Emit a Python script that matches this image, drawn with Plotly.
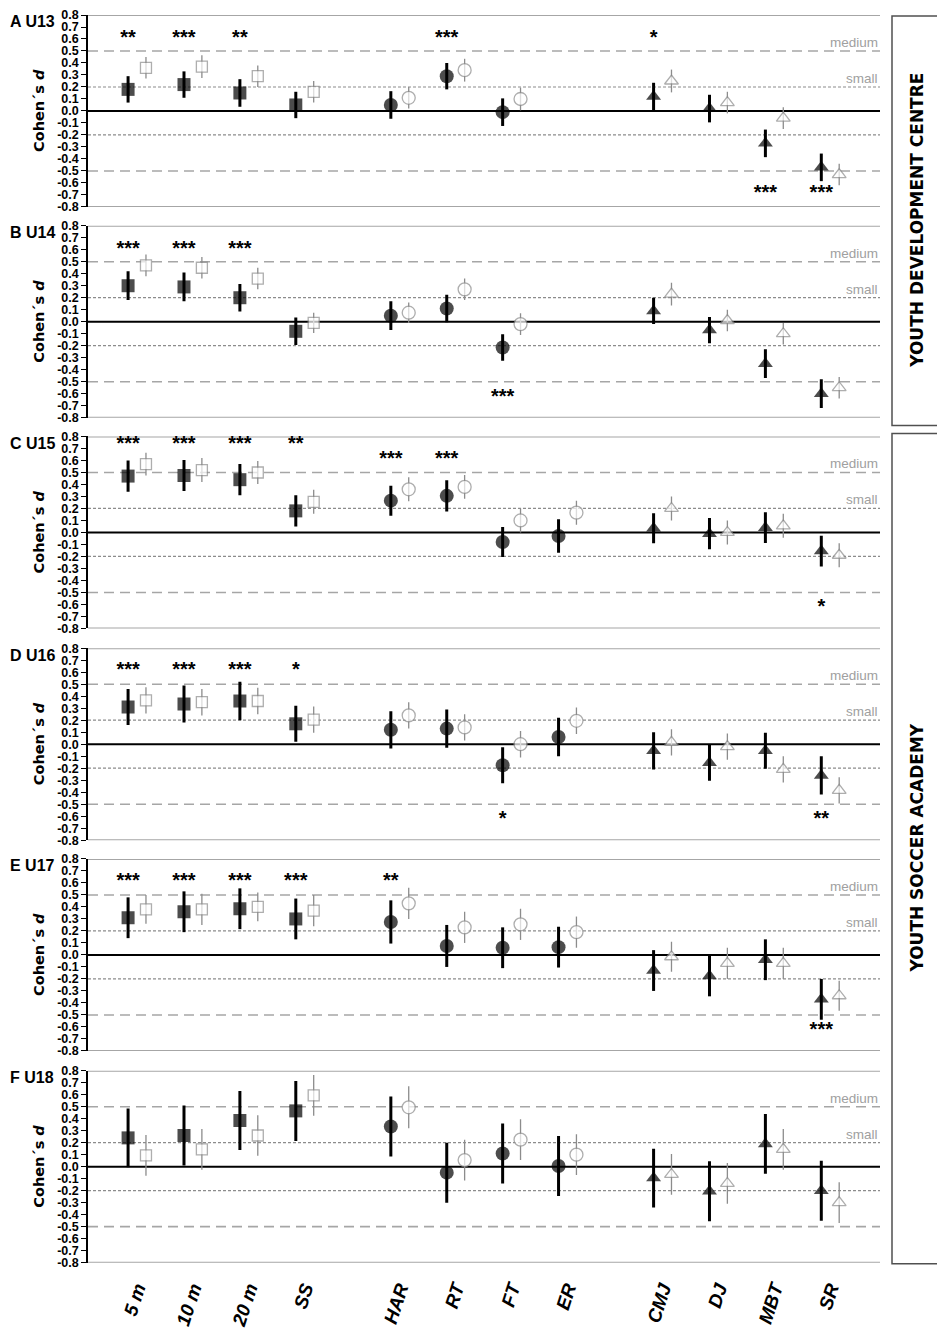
""" Cohen's d forest panels, U13 to U18 """

import plotly.graph_objects as go

# categories (tests) and their group (marker shape)
categories = ["5 m", "10 m", "20 m", "SS", "HAR", "RT", "FT", "ER", "CMJ", "DJ", "MBT", "SR"]
groups = ["sprint"] * 4 + ["agility"] * 4 + ["power"] * 4
panel_labels = ["A U13", "B U14", "C U15", "D U16", "E U17", "F U18"]

y_ticks = [-0.8, -0.7, -0.6, -0.5, -0.4, -0.3, -0.2, -0.1, 0.0, 0.1, 0.2, 0.3, 0.4, 0.5, 0.6, 0.7, 0.8]
y_tick_labels = ["-0.8", "-0.7", "-0.6", "-0.5", "-0.4", "-0.3", "-0.2", "-0.1", "0.0",
                 "0.1", "0.2", "0.3", "0.4", "0.5", "0.6", "0.7", "0.8"]

# U13
u13_black = [0.18, 0.22, 0.15, 0.05, 0.05, 0.29, -0.01, None, 0.12, 0.02, -0.27, -0.47]
u13_black_err = [0.11, 0.11, 0.115, 0.11, 0.115, 0.11, 0.115, None, 0.115, 0.115, 0.115, 0.115]
u13_grey = [0.36, 0.37, 0.29, 0.16, 0.11, 0.34, 0.10, None, 0.25, 0.07, -0.06, -0.53]
u13_grey_err = [0.09, 0.095, 0.09, 0.09, 0.09, 0.095, 0.095, None, 0.095, 0.09, 0.09, 0.09]
u13_sig = ["**", "***", "**", "", "", "***", "", "", "*", "", "***", "***"]
u13_sig_y = [0.6, 0.6, 0.6, None, None, 0.6, None, None, 0.6, None, -0.69, -0.69]

# U14
u14_black = [0.30, 0.29, 0.20, -0.08, 0.05, 0.11, -0.215, None, 0.09, -0.07, -0.35, -0.60]
u14_black_err = [0.12, 0.12, 0.115, 0.115, 0.12, 0.115, 0.11, None, 0.11, 0.11, 0.12, 0.12]
u14_grey = [0.47, 0.45, 0.36, -0.01, 0.075, 0.27, -0.02, None, 0.23, 0.01, -0.10, -0.55]
u14_grey_err = [0.09, 0.09, 0.09, 0.085, 0.085, 0.09, 0.09, None, 0.095, 0.09, 0.09, 0.09]
u14_sig = ["***", "***", "***", "", "", "", "***", "", "", "", "***", "***"]
u14_sig_y = [0.6, 0.6, 0.6, None, None, None, -0.64, None, None, None, -0.87, -0.87]

# U15
u15_black = [0.47, 0.475, 0.44, 0.18, 0.265, 0.305, -0.08, -0.03, 0.035, -0.01, 0.04, -0.155]
u15_black_err = [0.13, 0.13, 0.13, 0.13, 0.125, 0.13, 0.125, 0.14, 0.125, 0.13, 0.128, 0.128]
u15_grey = [0.57, 0.52, 0.50, 0.255, 0.36, 0.38, 0.10, 0.165, 0.20, 0.0, 0.055, -0.19]
u15_grey_err = [0.095, 0.10, 0.095, 0.10, 0.10, 0.10, 0.10, 0.10, 0.10, 0.10, 0.10, 0.10]
u15_sig = ["***", "***", "***", "**", "***", "***", "", "", "", "", "", "*"]
u15_sig_y = [0.73, 0.73, 0.73, 0.73, 0.6, 0.6, None, None, None, None, None, -0.63]

# U16
u16_black = [0.31, 0.335, 0.36, 0.17, 0.12, 0.13, -0.175, 0.06, -0.055, -0.155, -0.055, -0.26]
u16_black_err = [0.15, 0.155, 0.16, 0.15, 0.155, 0.16, 0.15, 0.16, 0.155, 0.15, 0.15, 0.16]
u16_grey = [0.365, 0.35, 0.36, 0.205, 0.24, 0.14, 0.0, 0.195, 0.015, -0.02, -0.21, -0.385]
u16_grey_err = [0.11, 0.11, 0.11, 0.11, 0.11, 0.11, 0.11, 0.11, 0.11, 0.11, 0.11, 0.11]
u16_sig = ["***", "***", "***", "*", "", "", "*", "", "", "", "", "**"]
u16_sig_y = [0.61, 0.61, 0.61, 0.61, None, None, -0.63, None, None, None, None, -0.63]

# U17
u17_black = [0.31, 0.36, 0.385, 0.30, 0.275, 0.075, 0.06, 0.065, -0.13, -0.175, -0.04, -0.37]
u17_black_err = [0.17, 0.17, 0.17, 0.17, 0.18, 0.175, 0.17, 0.17, 0.17, 0.17, 0.17, 0.17]
u17_grey = [0.38, 0.38, 0.40, 0.37, 0.43, 0.23, 0.255, 0.19, -0.015, -0.07, -0.07, -0.34]
u17_grey_err = [0.12, 0.13, 0.12, 0.13, 0.13, 0.13, 0.13, 0.13, 0.125, 0.13, 0.13, 0.125]
u17_sig = ["***", "***", "***", "***", "**", "", "", "", "", "", "", "***"]
u17_sig_y = [0.61, 0.61, 0.61, 0.61, 0.61, None, None, None, None, None, None, -0.63]

# U18
u18_black = [0.24, 0.26, 0.385, 0.465, 0.335, -0.05, 0.11, 0.005, -0.095, -0.205, 0.19, -0.20]
u18_black_err = [0.245, 0.25, 0.245, 0.25, 0.25, 0.25, 0.25, 0.25, 0.245, 0.25, 0.25, 0.25]
u18_grey = [0.095, 0.145, 0.26, 0.595, 0.495, 0.055, 0.225, 0.10, -0.065, -0.14, 0.145, -0.30]
u18_grey_err = [0.17, 0.17, 0.168, 0.17, 0.175, 0.17, 0.17, 0.17, 0.17, 0.17, 0.17, 0.17]
u18_sig = ["", "*", "**", "***", "**", "", "", "", "", "", "", ""]
u18_sig_y = [None, 0.86, 0.86, 0.86, 0.86, None, None, None, None, None, None, None]

panels = [
    (u13_black, u13_black_err, u13_grey, u13_grey_err, u13_sig, u13_sig_y),
    (u14_black, u14_black_err, u14_grey, u14_grey_err, u14_sig, u14_sig_y),
    (u15_black, u15_black_err, u15_grey, u15_grey_err, u15_sig, u15_sig_y),
    (u16_black, u16_black_err, u16_grey, u16_grey_err, u16_sig, u16_sig_y),
    (u17_black, u17_black_err, u17_grey, u17_grey_err, u17_sig, u17_sig_y),
    (u18_black, u18_black_err, u18_grey, u18_grey_err, u18_sig, u18_sig_y),
]

# the page body keeps its default 8px margin, so the figure is a bit smaller
PAD = 8
W, H = 945 - PAD, 1330 - PAD
GREY = "#8c8c8c"
LINE_GREY = "#a6a6a6"
NARROW = "Liberation Sans Narrow, Liberation Sans, Arial"


def px(x):
    return min(1, max(0, (x - PAD) / W))


def py(y):
    return min(1, max(0, 1 - (y - PAD) / H))


# x positions: groups of four with a wider gap between groups
x_pos = []
for i, g in enumerate(groups):
    gap = {"sprint": 0, "agility": 0.7, "power": 1.4}[g]
    x_pos.append(i + gap)
off = 0.16
symbols = {"sprint": "square", "agility": "circle", "power": "triangle-up"}
black_sizes = {"sprint": 13, "agility": 14, "power": 13}
grey_sizes = {"sprint": 11, "agility": 13, "power": 12}

fig = go.Figure()

x_dom = [px(88), px(880)]
panel_tops = [8, 221, 434, 648, 861, 1075]
panel_h = 194

for k, (bl, ble, gr, gre, sig, sig_y) in enumerate(panels):
    n = k + 1
    xa = "x" if n == 1 else "x%d" % n
    ya = "y" if n == 1 else "y%d" % n
    top = panel_tops[k]
    dom = [py(top + panel_h), py(top)]

    fig.add_trace(go.Scatter(
        x=[p + off for p in x_pos], y=gr, mode="markers", xaxis=xa, yaxis=ya,
        marker=dict(symbol=[symbols[g] for g in groups],
                    size=[grey_sizes[g] for g in groups],
                    color="white", line=dict(color=GREY, width=1.3)),
        error_y=dict(type="data", array=gre, color=GREY, thickness=1.3, width=0),
        showlegend=False, cliponaxis=False))
    fig.add_trace(go.Scatter(
        x=[p - off for p in x_pos], y=bl, mode="markers", xaxis=xa, yaxis=ya,
        marker=dict(symbol=[symbols[g] for g in groups],
                    size=[black_sizes[g] for g in groups], color="black",
                    line=dict(color="black", width=0)),
        error_y=dict(type="data", array=ble, color="black", thickness=3, width=0),
        showlegend=False, cliponaxis=False))
    fig.add_trace(go.Scatter(
        x=[p - off for p in x_pos], y=sig_y, mode="text", text=sig,
        xaxis=xa, yaxis=ya, textposition="middle center",
        textfont=dict(family="Liberation Sans", size=20, color="black", weight="bold"),
        showlegend=False, cliponaxis=False))

    xaxis = dict(domain=x_dom, anchor=ya, range=[-0.877, 13.29], showgrid=False,
                 zeroline=False, showline=False, showticklabels=False, ticks="")
    if n == 6:
        xaxis.update(showticklabels=True, tickvals=x_pos, ticktext=categories,
                     tickangle=-72, ticklabelstandoff=10,
                     tickfont=dict(family="Liberation Sans", size=19, color="black",
                                   weight="bold", style="italic"))
    yaxis = dict(domain=dom, anchor=xa, range=[-0.8, 0.8], showgrid=False, zeroline=False,
                 showline=True, linecolor="black", linewidth=1.5, ticks="outside",
                 ticklen=5, tickwidth=1.3, tickcolor="black",
                 tickvals=y_ticks, ticktext=y_tick_labels,
                 tickfont=dict(family="Liberation Sans", size=12.5, color="black", weight="bold"))
    fig.update_layout({("xaxis" if n == 1 else "xaxis%d" % n): xaxis,
                       ("yaxis" if n == 1 else "yaxis%d" % n): yaxis})

    # reference lines
    xd = xa + " domain"
    for lvl, col, wid, dash in [(0.8, LINE_GREY, 2, "solid"), (-0.8, LINE_GREY, 2, "solid"),
                                (0.5, LINE_GREY, 1.6, "10px,6px"), (-0.5, LINE_GREY, 1.6, "10px,6px"),
                                (0.2, GREY, 1.2, "3px,2px"), (-0.2, GREY, 1.2, "3px,2px"),
                                (0, "black", 2, "solid")]:
        fig.add_shape(type="line", xref=xd, yref=ya, x0=0, x1=1, y0=lvl, y1=lvl,
                      line=dict(color=col, width=wid, dash=dash), layer="below")

    fig.add_annotation(xref=xd, yref=ya, x=1, y=0.5, text="medium", showarrow=False,
                       xanchor="right", yanchor="bottom", yshift=-1,
                       font=dict(family="Liberation Sans", size=13.5, color="#a0a0a0"))
    fig.add_annotation(xref=xd, yref=ya, x=1, y=0.2, text="small", showarrow=False,
                       xanchor="right", yanchor="bottom", yshift=-1,
                       font=dict(family="Liberation Sans", size=13.5, color="#a0a0a0"))

    fig.add_annotation(xref="paper", yref="paper", x=px(2), y=py(top + 7),
                       text="<b>%s</b>" % panel_labels[k], showarrow=False,
                       xanchor="left", yanchor="middle",
                       font=dict(family=NARROW, size=16, color="black"))
    fig.add_annotation(xref="paper", yref="paper", x=px(39), y=py(top + panel_h / 2),
                       text="<b>Cohen´s <i>d</i></b>", showarrow=False, textangle=-90,
                       xanchor="center", yanchor="middle",
                       font=dict(family="DejaVu Sans", size=14.5, color="black"))

# side boxes
for label, y_top, y_bot in [("YOUTH DEVELOPMENT CENTRE", 9, 423),
                            ("YOUTH SOCCER ACADEMY", 431, 1270)]:
    fig.add_shape(type="rect", xref="paper", yref="paper", x0=px(892), x1=px(942),
                  y0=py(y_bot), y1=py(y_top),
                  line=dict(color="#505050", width=1.5), fillcolor="white")
    fig.add_annotation(xref="paper", yref="paper", x=px(917), y=py((y_top + y_bot) / 2),
                       text="<b>%s</b>" % label, showarrow=False, textangle=-90,
                       xanchor="center", yanchor="middle",
                       font=dict(family="DejaVu Sans", size=17, color="black"))

fig.update_layout(width=W, height=H, margin=dict(l=0, r=0, t=0, b=0),
                  plot_bgcolor="white", paper_bgcolor="white")

fig.write_html("out.html")
